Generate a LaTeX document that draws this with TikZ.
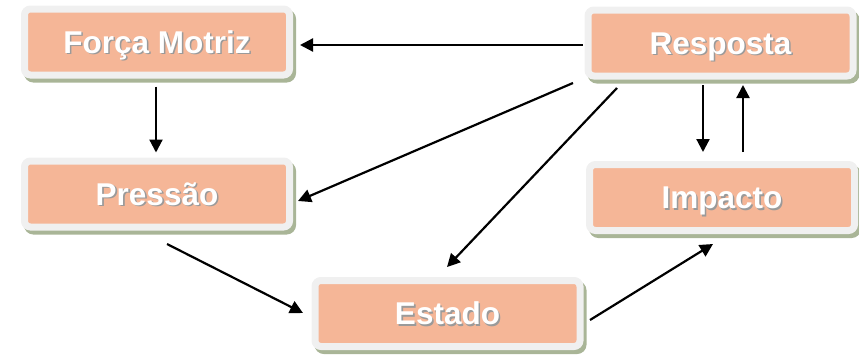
\documentclass[tikz,border=0pt]{standalone}
\usepackage{fontspec}
\setmainfont{Liberation Sans}
\usetikzlibrary{arrows.meta,calc}
\definecolor{salmon}{HTML}{F5B697}
\definecolor{rim}{HTML}{F0F0F0}
\definecolor{shadowc}{HTML}{A9B597}
\definecolor{tshadow}{HTML}{9A9A9A}
\newcommand{\shtext}[1]{\makebox[0pt][l]{\hspace{1.6pt}\raisebox{-1.6pt}{\textcolor{tshadow}{#1}}}\textcolor{white}{#1}}
\begin{document}
\begin{tikzpicture}[x=1pt,y=-1pt,
  box/.style={rectangle, rounded corners=6pt, fill=salmon, draw=rim, line width=7pt,
    outer sep=3.5pt, minimum width=265pt, minimum height=66pt, inner sep=0pt,
    text height=22pt, text depth=0pt,
    font=\fontsize{31.5}{36}\selectfont\bfseries,
    preaction={draw=shadowc, fill=shadowc, transform canvas={shift={(3pt,-4pt)}}}},
  arr/.style={line width=2.2pt, -{Triangle[length=13pt,width=13pt]}}]
\useasboundingbox (0,0) rectangle (859,356);
\node[box] (fm) at (157,42) {\shtext{Força Motriz}};
\node[box] (resp) at (720.5,43) {\shtext{Resposta}};
\node[box] (pr) at (157,194) {\shtext{Pressão}};
\node[box] (est) at (447.5,313.5) {\shtext{Estado}};
\node[box] (imp) at (722,197.5) {\shtext{Impacto}};
\draw[arr] ([shift={(-2,2)}]resp.west) -- ([shift={(7,3)}]fm.east);
\draw[arr] ([shift={(-1,8)}]fm.south) -- ([shift={(-1,-5)}]pr.north);
\draw[arr] ([shift={(-17.5,5.5)}]resp.south) -- ([shift={(-19,-9)}]imp.north);
\draw[arr] ([shift={(21,-9)}]imp.north) -- ([shift={(22.5,5.5)}]resp.south);
\draw[arr] ([shift={(-11.5,3.5)}]resp.south west) -- ([shift={(5,7)}]pr.east);
\draw[arr] ([shift={(32.5,8.5)}]resp.south west) -- ([shift={(-0.5,-10)}]est.north);
\draw[arr] ([shift={(10,13.5)}]pr.south) -- ([shift={(-8.5,-0.5)}]est.west);
\draw[arr] ([shift={(6.5,6.5)}]est.east) -- ([shift={(-9,10)}]imp.south);
\end{tikzpicture}
\end{document}
